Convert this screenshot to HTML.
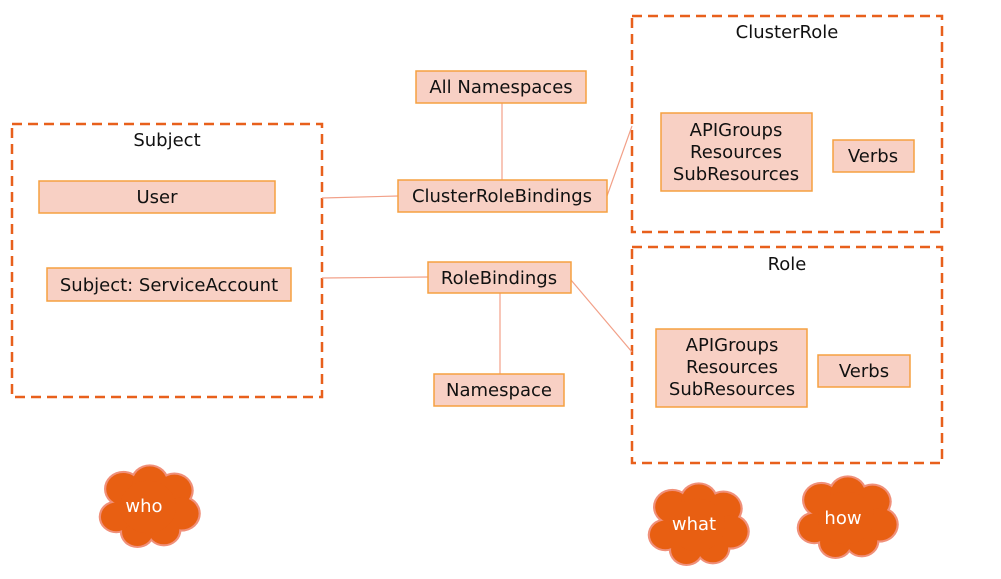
<!DOCTYPE html>
<html><head><style>body{margin:0;background:#fff}svg{display:block}text{font-family:"DejaVu Sans","Liberation Sans",sans-serif;font-size:18px;fill:#111}</style></head>
<body>
<svg width="1001" height="579" viewBox="0 0 1001 579" xmlns="http://www.w3.org/2000/svg">
<defs>
<g id="cloud">
<g fill="#f0907a">
<circle cx="-28" cy="-22" r="22"/><circle cx="2" cy="-30" r="22"/><circle cx="30" cy="-20" r="22"/><circle cx="38" cy="8" r="22"/><circle cx="18" cy="28" r="20"/><circle cx="-12" cy="30" r="20"/><circle cx="-36" cy="12" r="20"/><circle cx="0" cy="0" r="34"/>
</g>
<g fill="#e85f12">
<circle cx="-28" cy="-22" r="19.5"/><circle cx="2" cy="-30" r="19.5"/><circle cx="30" cy="-20" r="19.5"/><circle cx="38" cy="8" r="19.5"/><circle cx="18" cy="28" r="17.5"/><circle cx="-12" cy="30" r="17.5"/><circle cx="-36" cy="12" r="17.5"/><circle cx="0" cy="0" r="32"/>
</g>
</g>
</defs>
<g fill="none" stroke="#e8601c" stroke-width="2.5" stroke-dasharray="10,6">
<rect x="12" y="124" width="310" height="273"/>
<rect x="632" y="16" width="310" height="216"/>
<rect x="632" y="247" width="310" height="216"/>
</g>
<g stroke="#f2a088" stroke-width="1.2">
<line x1="322" y1="198" x2="398" y2="196"/>
<line x1="322" y1="278" x2="428" y2="277"/>
<line x1="502" y1="103" x2="502" y2="180"/>
<line x1="607" y1="196" x2="632" y2="126"/>
<line x1="500" y1="293" x2="500" y2="374"/>
<line x1="571" y1="280" x2="632" y2="352"/>
</g>
<g fill="#f8d0c4" stroke="#f5a040" stroke-width="1.5">
<rect x="416" y="71" width="170" height="32"/>
<rect x="398" y="180" width="209" height="32"/>
<rect x="428" y="262" width="143" height="31"/>
<rect x="434" y="374" width="130" height="32"/>
<rect x="39" y="181" width="236" height="32"/>
<rect x="47" y="268" width="244" height="33"/>
<rect x="661" y="113" width="151" height="78"/>
<rect x="833" y="140" width="81" height="32"/>
<rect x="656" y="329" width="151" height="78"/>
<rect x="818" y="355" width="92" height="32"/>
</g>
<g text-anchor="middle">
<text x="167" y="146">Subject</text>
<text x="787" y="38">ClusterRole</text>
<text x="787" y="270">Role</text>
<text x="501" y="93">All Namespaces</text>
<text x="502" y="202">ClusterRoleBindings</text>
<text x="499" y="284">RoleBindings</text>
<text x="499" y="396">Namespace</text>
<text x="157" y="203">User</text>
<text x="169" y="291">Subject: ServiceAccount</text>
<text x="736" y="136">APIGroups</text>
<text x="736" y="158">Resources</text>
<text x="736" y="180">SubResources</text>
<text x="873" y="162">Verbs</text>
<text x="732" y="351">APIGroups</text>
<text x="732" y="373">Resources</text>
<text x="732" y="395">SubResources</text>
<text x="864" y="377">Verbs</text>
</g>
<use href="#cloud" transform="translate(148,507) scale(0.88,0.82)"/>
<use href="#cloud" transform="translate(697,525) scale(0.88,0.82)"/>
<use href="#cloud" transform="translate(846,518) scale(0.88,0.82)"/>
<g text-anchor="middle">
<text x="144" y="512" style="fill:#fff">who</text>
<text x="694" y="530" style="fill:#fff">what</text>
<text x="843" y="524" style="fill:#fff">how</text>
</g>
</svg>
</body></html>
